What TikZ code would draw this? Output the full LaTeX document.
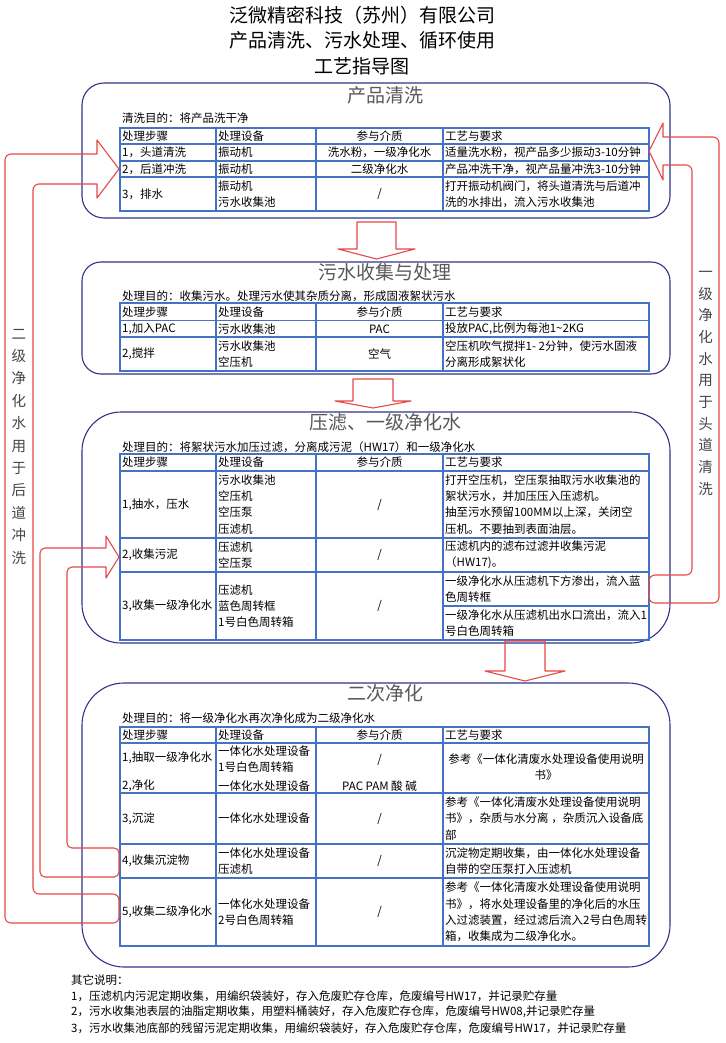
\documentclass[tikz,border=0pt]{standalone}
\usepackage{fontspec}
\setmainfont{Noto Sans CJK SC}
\definecolor{navy}{RGB}{48,52,140}
\definecolor{tblue}{RGB}{68,114,196}
\definecolor{ared}{RGB}{232,72,72}
\definecolor{tgray}{RGB}{89,89,89}
\definecolor{vgray}{RGB}{70,70,70}
\newcommand{\fsm}{\fontsize{11.5}{16.2}\selectfont}
\newcommand{\fbg}{\fontsize{19}{25}\selectfont}
\newcommand{\hdrrow}[2]{%
  \node[cl] (#2a) at (122,#1) {处理步骤};
  \node[cl] (#2b) at (218,#1) {处理设备};
  \node[cc] (#2c) at (379.5,#1) {参与介质};
  \node[cl] (#2d) at (445,#1) {工艺与要求};}
\begin{document}
\begin{tikzpicture}[x=1pt,y=-1pt,
 secbox/.style={draw=navy,line width=1.1pt},
 tbl/.style={draw=tblue,line width=1.1pt},
 blk/.style={draw=ared,line width=1.1pt,line join=round},
 cl/.style={anchor=west,inner sep=0pt,font=\fsm,align=left,text=black},
 cc/.style={anchor=center,inner sep=0pt,font=\fsm,align=center,text=black},
 ttl/.style={inner sep=0pt,font=\fbg,text=black},
 sttl/.style={inner sep=0pt,font=\fbg,text=tgray},
 vtxt/.style={inner sep=0pt,align=center,text=vgray}]
\useasboundingbox (0,0) rectangle (725,1043);
\fill[white] (0,0) rectangle (725,1043);

% ---------- titles ----------
\node[ttl] (t1) at (362,15) {泛微精密科技（苏州）有限公司};
\node[ttl] (t2) at (362,40) {产品清洗、污水处理、循环使用};
\node[ttl] (t3) at (362,66) {工艺指导图};

% ---------- section boxes ----------
\draw[secbox, rounded corners=22] (82,83) rectangle (670,218);
\draw[secbox, rounded corners=19] (82,262) rectangle (670,374);
\draw[secbox, rounded corners=39] (82,412) rectangle (670,643);
\draw[secbox, rounded corners=42] (82,683) rectangle (670,967);

\node[sttl] (h1) at (385,95) {产品清洗};
\node[sttl] (h2) at (385,272) {污水收集与处理};
\node[sttl] (h3) at (385,422) {压滤、一级净化水};
\node[sttl] (h4) at (385,693) {二次净化};

\node[cl] (p1) at (122,118) {清洗目的：将产品洗干净};
\node[cl] (p2) at (122,296) {处理目的：收集污水。处理污水使其杂质分离，形成固液絮状污水};
\node[cl] (p3) at (122,447) {处理目的：将絮状污水加压过滤，分离成污泥（HW17）和一级净化水};
\node[cl] (p4) at (122,718) {处理目的：将一级净化水再次净化成为二级净化水};

% ---------- table 1 ----------
\draw[tbl] (120,128) rectangle (649,211);
\draw[tbl] (120,144) -- (649,144) (120,161) -- (649,161) (120,177) -- (649,177);
\draw[tbl] (216,128) -- (216,211) (316,128) -- (316,211) (443,128) -- (443,211);
\hdrrow{136}{ha}
\node[cl] (a11) at (122,152.5) {1，头道清洗};
\node[cl] (a12) at (218,152.5) {振动机};
\node[cc] (a13) at (379.5,152.5) {洗水粉，一级净化水};
\node[cl] (a14) at (445,152.5) {适量洗水粉，视产品多少振动3-10分钟};
\node[cl] (a21) at (122,169) {2，后道冲洗};
\node[cl] (a22) at (218,169) {振动机};
\node[cc] (a23) at (379.5,169) {二级净化水};
\node[cl] (a24) at (445,169) {产品冲洗干净，视产品量冲洗3-10分钟};
\node[cl] (a31) at (122,194) {3，排水};
\node[cl] (a32) at (218,194) {振动机\\污水收集池};
\node[cc] (a33) at (379.5,194) {/};
\node[cl] (a34) at (445,194) {打开振动机阀门，将头道清洗与后道冲\\洗的水排出，流入污水收集池};

% ---------- table 2 ----------
\draw[tbl] (120,303) rectangle (649,371);
\draw[tbl] (120,320.5) -- (649,320.5) (120,337) -- (649,337);
\draw[tbl] (216,303) -- (216,371) (316,303) -- (316,371) (443,303) -- (443,371);
\hdrrow{312}{hb}
\node[cl] (b11) at (122,329) {1,加入PAC};
\node[cl] (b12) at (218,329) {污水收集池};
\node[cc] (b13) at (379.5,329) {PAC};
\node[cl] (b14) at (445,329) {投放PAC,比例为每池1\textasciitilde 2KG};
\node[cl] (b21) at (122,354) {2,搅拌};
\node[cl] (b22) at (218,354) {污水收集池\\空压机};
\node[cc] (b23) at (379.5,354) {空气};
\node[cl] (b24) at (445,354) {空压机吹气搅拌1- 2分钟，使污水固液\\分离形成絮状化};

% ---------- table 3 ----------
\draw[tbl] (120,454) rectangle (649,640);
\draw[tbl] (120,471) -- (649,471) (120,538) -- (649,538) (120,572) -- (649,572) (443,606) -- (649,606);
\draw[tbl] (216,454) -- (216,640) (316,454) -- (316,640) (443,454) -- (443,640);
\hdrrow{462.5}{hc}
\node[cl] (c11) at (122,504.5) {1,抽水，压水};
\node[cl] (c12) at (218,504.5) {污水收集池\\空压机\\空压泵\\压滤机};
\node[cc] (c13) at (379.5,504.5) {/};
\node[cl] (c14) at (445,504.5) {打开空压机，空压泵抽取污水收集池的\\絮状污水，并加压压入压滤机。\\抽至污水预留100MM以上深，关闭空\\压机。不要抽到表面油层。};
\node[cl] (c21) at (122,555) {2,收集污泥};
\node[cl] (c22) at (218,555) {压滤机\\空压泵};
\node[cc] (c23) at (379.5,555) {/};
\node[cl] (c24) at (445,555) {压滤机内的滤布过滤并收集污泥\\（HW17)。};
\node[cl] (c31) at (122,606) {3,收集一级净化水};
\node[cl] (c32) at (218,606) {压滤机\\蓝色周转框\\1号白色周转箱};
\node[cc] (c33) at (379.5,606) {/};
\node[cl] (c34) at (445,589) {一级净化水从压滤机下方渗出，流入蓝\\色周转框};
\node[cl] (c35) at (445,623) {一级净化水从压滤机出水口流出，流入1\\号白色周转箱};

% ---------- table 4 ----------
\draw[tbl] (120,727) rectangle (649,946);
\draw[tbl] (120,743) -- (649,743) (120,793) -- (649,793) (120,844) -- (649,844) (120,878) -- (649,878);
\draw[tbl] (216,727) -- (216,946) (316,727) -- (316,946) (443,727) -- (443,946);
\hdrrow{735}{hd}
\node[cl] (d11) at (122,758) {1,抽取一级净化水};
\node[cl] (d12) at (122,786) {2,净化};
\node[cl] (d13) at (218,751) {一体化水处理设备};
\node[cl] (d14) at (218,767) {1号白色周转箱};
\node[cl] (d15) at (218,786) {一体化水处理设备};
\node[cc] (d16) at (379.5,760) {/};
\node[cc] (d17) at (379.5,786) {PAC PAM 酸 碱};
\node[cc] (d18) at (546,767.5) {参考《一体化清废水处理设备使用说明\\书》};
\node[cl] (d21) at (122,818.5) {3,沉淀};
\node[cl] (d22) at (218,818.5) {一体化水处理设备};
\node[cc] (d23) at (379.5,818.5) {/};
\node[cl] (d24) at (445,818.5) {参考《一体化清废水处理设备使用说明\\书》，杂质与水分离 ，杂质沉入设备底\\部};
\node[cl] (d31) at (122,861) {4,收集沉淀物};
\node[cl] (d32) at (218,861) {一体化水处理设备\\压滤机};
\node[cc] (d33) at (379.5,861) {/};
\node[cl] (d34) at (445,861) {沉淀物定期收集，由一体化水处理设备\\自带的空压泵打入压滤机};
\node[cl] (d41) at (122,912) {5,收集二级净化水};
\node[cl] (d42) at (218,912) {一体化水处理设备\\2号白色周转箱};
\node[cc] (d43) at (379.5,912) {/};
\node[cl] (d44) at (445,912) {参考《一体化清废水处理设备使用说明\\书》，将水处理设备里的净化后的水压\\入过滤装置，经过滤后流入2号白色周转\\箱，收集成为二级净化水。};

% ---------- notes ----------
\node[cl] (n0) at (71,980) {其它说明：};
\node[cl] (n1) at (71,996) {1，压滤机内污泥定期收集，用编织袋装好，存入危废贮存仓库，危废编号HW17，并记录贮存量};
\node[cl] (n2) at (71,1012) {2，污水收集池表层的油脂定期收集，用塑料桶装好，存入危废贮存仓库，危废编号HW08,并记录贮存量};
\node[cl] (n3) at (71,1028) {3，污水收集池底部的残留污泥定期收集，用编织袋装好，存入危废贮存仓库，危废编号HW17，并记录贮存量};

% ---------- down block arrows ----------
\draw[blk] (357,222) -- (396,222) -- (396,249) -- (415,249) -- (376.5,259) -- (338,249) -- (357,249) -- cycle;
\draw[blk] (353,379) -- (393,379) -- (393,401) -- (411,401) -- (373,408) -- (335,401) -- (353,401) -- cycle;
\draw[blk] (505,641) -- (545,641) -- (545,671) -- (565,671) -- (525,681) -- (485,671) -- (505,671) -- cycle;

% ---------- side bent arrows ----------
\draw[blk] (119,169) -- (97,140) -- (97,154) [rounded corners=6] -- (5,154) -- (5,923) -- (119,923) -- (119,894) -- (33,894) -- (33,184) [sharp corners] -- (97,184) -- (97,198) -- cycle;
\draw[blk] (119,557) -- (106,536) -- (106,548) [rounded corners=5] -- (40,548) -- (40,877) -- (119,877) -- (119,848) -- (67,848) -- (67,567) [sharp corners] -- (106,567) -- (106,578) -- cycle;
\draw[blk] (649,151) -- (663,123) -- (663,137) [rounded corners=6] -- (719,137) -- (719,603) -- (649,603) -- (649,575) -- (692,575) -- (692,165) [sharp corners] -- (663,165) -- (663,180) -- cycle;

\node[vtxt, font=\fontsize{14.5}{22.4}\selectfont] (lt) at (19,446.7) {二\\级\\净\\化\\水\\用\\于\\后\\道\\冲\\洗};
\node[vtxt, font=\fontsize{14.5}{21.7}\selectfont] (rt) at (705.5,383.3) {一\\级\\净\\化\\水\\用\\于\\头\\道\\清\\洗};
\end{tikzpicture}
\end{document}
